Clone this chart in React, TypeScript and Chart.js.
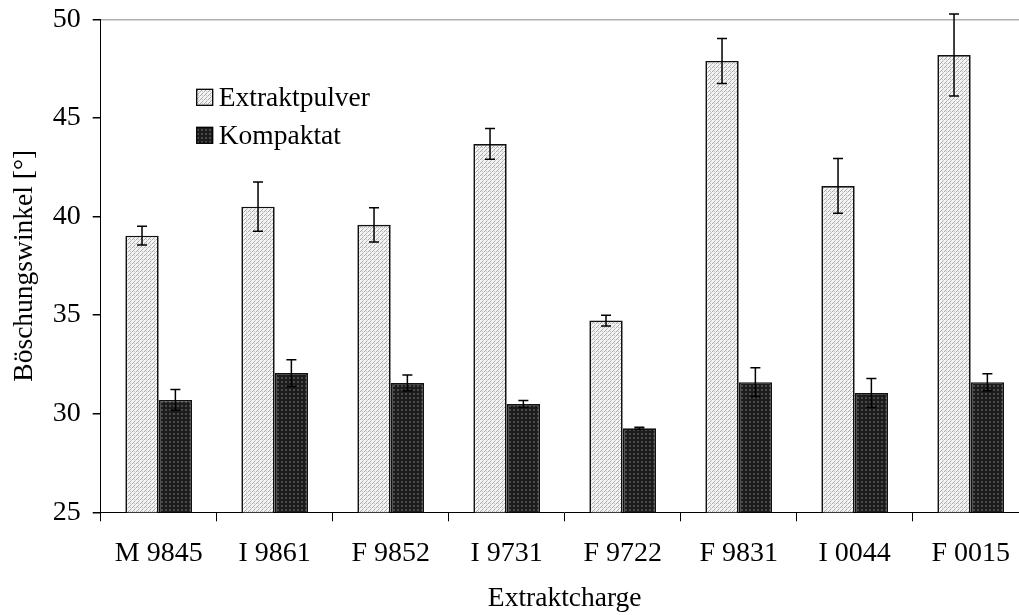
import { useEffect, useRef } from "react";
import { Chart, registerables } from "chart.js";
Chart.register(...registerables);

const categories = ["M 9845", "I 9861", "F 9852", "I 9731", "F 9722", "F 9831", "I 0044", "F 0015"];
const extraktValues = [39.03, 40.5, 39.58, 43.68, 34.72, 47.89, 41.55, 48.19];
const extraktErrors = [0.47, 1.25, 0.87, 0.78, 0.27, 1.14, 1.39, 2.08];
const kompaktValues = [30.7, 32.06, 31.56, 30.49, 29.26, 31.6, 31.05, 31.6];
const kompaktErrors = [0.53, 0.68, 0.4, 0.18, 0.05, 0.73, 0.74, 0.43];
const seriesLabels = ["Extraktpulver", "Kompaktat"];
const yMin = 25;
const yMax = 50;
const yStep = 5;
const xTitle = "Extraktcharge";
const yTitle = "Böschungswinkel [°]";

const FONT = "'Liberation Serif', 'Times New Roman', serif";
const FS = 28;
const FS2 = 27.5;

function makeLightPattern(): CanvasPattern | string {
  const c = document.createElement("canvas");
  c.width = 4;
  c.height = 4;
  const g = c.getContext("2d");
  if (!g) return "#ddd";
  g.fillStyle = "#f4f4f4";
  g.fillRect(0, 0, 4, 4);
  g.fillStyle = "#a8a8a8";
  g.fillRect(0, 3, 1, 1);
  g.fillRect(1, 2, 1, 1);
  g.fillRect(2, 1, 1, 1);
  g.fillStyle = "#c8c8c8";
  g.fillRect(3, 0, 1, 1);
  g.fillRect(2, 3, 1, 1);
  const p = g.createPattern(c, "repeat");
  return p || "#ddd";
}

function makeDarkPattern(): CanvasPattern | string {
  const c = document.createElement("canvas");
  c.width = 4;
  c.height = 4;
  const g = c.getContext("2d");
  if (!g) return "#333";
  g.fillStyle = "#1c1c1c";
  g.fillRect(0, 0, 4, 4);
  g.fillStyle = "#4a4a4a";
  g.fillRect(1, 1, 2, 2);
  const p = g.createPattern(c, "repeat");
  return p || "#333";
}

const errorBarsPlugin = {
  id: "errorBars",
  afterDatasetsDraw(chart: any) {
    const ctx = chart.ctx;
    const yScale = chart.scales.y;
    const errs = [extraktErrors, kompaktErrors];
    ctx.save();
    ctx.strokeStyle = "#000";
    ctx.lineWidth = 1.5;
    chart.data.datasets.forEach((ds: any, di: number) => {
      const meta = chart.getDatasetMeta(di);
      meta.data.forEach((bar: any, i: number) => {
        const v = ds.data[i];
        const e = errs[di][i];
        const x = bar.x;
        const yt = yScale.getPixelForValue(v + e);
        const yb = yScale.getPixelForValue(v - e);
        ctx.beginPath();
        ctx.moveTo(x, yt);
        ctx.lineTo(x, yb);
        ctx.moveTo(x - 5, yt);
        ctx.lineTo(x + 5, yt);
        ctx.moveTo(x - 5, yb);
        ctx.lineTo(x + 5, yb);
        ctx.stroke();
      });
    });
    ctx.restore();
  },
};

const legendPlugin = {
  id: "customLegend",
  afterDraw(chart: any) {
    const ctx = chart.ctx;
    const area = chart.chartArea;
    const x0 = area.left + 96;
    const y0 = area.top + 70;
    ctx.save();
    ctx.font = `${FS2}px ${FONT}`;
    ctx.textBaseline = "alphabetic";
    chart.data.datasets.forEach((ds: any, i: number) => {
      const by = y0 + i * 38;
      ctx.fillStyle = ds.backgroundColor;
      ctx.fillRect(x0, by, 16, 16);
      ctx.strokeStyle = "#000";
      ctx.lineWidth = 1.3;
      ctx.strokeRect(x0, by, 16, 16);
      ctx.fillStyle = "#000";
      ctx.fillText(ds.label, x0 + 22, by + 17);
    });
    ctx.restore();
  },
};

export default function App() {
  const ref = useRef<HTMLCanvasElement | null>(null);
  useEffect(() => {
    if (!ref.current) return;
    Chart.defaults.font.family = FONT;
    Chart.defaults.font.size = FS;
    Chart.defaults.color = "#000";
    const light = makeLightPattern();
    const dark = makeDarkPattern();
    const chart = new Chart(ref.current, {
      type: "bar",
      data: {
        labels: categories,
        datasets: [
          {
            label: seriesLabels[0],
            data: extraktValues,
            backgroundColor: light as any,
            borderColor: "#111",
            borderWidth: 1.7,
            categoryPercentage: 0.575,
            barPercentage: 1,
          },
          {
            label: seriesLabels[1],
            data: kompaktValues,
            backgroundColor: dark as any,
            borderColor: "#111",
            borderWidth: 1.7,
            categoryPercentage: 0.575,
            barPercentage: 1,
          },
        ],
      },
      options: {
        responsive: false,
        animation: false,
        devicePixelRatio: 1,
        layout: { padding: { top: 19.3, right: 11.3, left: 0, bottom: 0 } },
        plugins: {
          legend: { display: false },
          tooltip: { enabled: false },
        },
        scales: {
          x: {
            offset: true,
            grid: {
              display: true,
              drawOnChartArea: false,
              drawTicks: true,
              tickLength: 9,
              color: "#000",
              tickColor: "#000",
              offset: true,
            },
            border: { display: true, color: "#000", width: 1 },
            ticks: { color: "#000", padding: 16, font: { size: FS, family: FONT }, maxRotation: 0, autoSkip: false },
            title: {
              display: true,
              text: xTitle,
              color: "#000",
              font: { size: FS2, family: FONT },
              padding: { top: 0, bottom: 0 },
            },
            afterFit: (s: any) => {
              s.height = 102.7;
              s.paddingLeft = 0;
              s.paddingRight = 0;
            },
          },
          y: {
            min: yMin,
            max: yMax,
            ticks: { stepSize: yStep, color: "#000", padding: 12, font: { size: FS, family: FONT } },
            grid: {
              drawOnChartArea: true,
              drawTicks: true,
              tickLength: 8,
              color: (c: any) => (c.tick && c.tick.value === yMax ? "#b0b0b0" : "rgba(0,0,0,0)"),
              tickColor: "#000",
              lineWidth: 1.5,
            },
            border: { display: true, color: "#000", width: 1 },
            title: {
              display: true,
              text: yTitle,
              color: "#000",
              font: { size: FS2, family: FONT },
              padding: { top: 8, bottom: 0 },
            },
            afterFit: (s: any) => {
              s.width = 100.7;
              s.paddingTop = 0;
              s.paddingBottom = 0;
            },
          },
        },
      },
      plugins: [errorBarsPlugin, legendPlugin],
    });
    return () => chart.destroy();
  }, []);
  return (
    <div style={{ position: "absolute", left: 0, top: 0, width: 1019, height: 615, overflow: "hidden", background: "#fff" }}>
      <canvas ref={ref} width={1040} height={615} style={{ display: "block" }} />
    </div>
  );
}
